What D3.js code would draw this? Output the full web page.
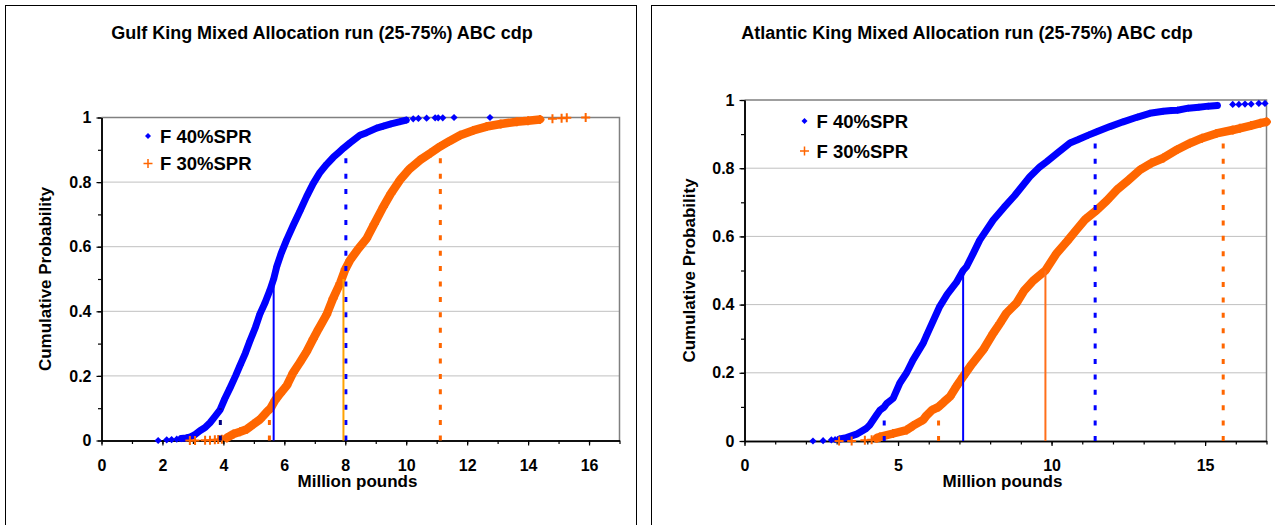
<!DOCTYPE html>
<html><head><meta charset="utf-8">
<script src="https://cdn.jsdelivr.net/npm/d3@7"></script>
<style>
body{margin:0;background:#fff}
svg{display:block}
text{font-family:Arial,"Liberation Sans",sans-serif;font-weight:bold;fill:#000}
</style>
</head><body>
<svg id="c" width="1275" height="525"></svg>
<script>
// ---------------- data ----------------
const seriesNames = ["F 40%SPR", "F 30%SPR"];
const gulfTitle = "Gulf King Mixed Allocation run (25-75%) ABC cdp";
const atlTitle = "Atlantic King Mixed Allocation run (25-75%) ABC cdp";
const xAxisTitle = "Million pounds";
const yAxisTitle = "Cumulative Probability";

const gulfXTicks = [0, 2, 4, 6, 8, 10, 12, 14, 16];
const atlXTicks = [0, 5, 10, 15];
const xMinorTicks = [0,1,2,3,4,5,6,7,8,9,10,11,12,13,14,15,16,17];
const yTicks = [0, 0.2, 0.4, 0.6, 0.8, 1];
const yTickLabels = ["0", "0.2", "0.4", "0.6", "0.8", "1"];
const yMinorTicks = [0,0.1,0.2,0.3,0.4,0.5,0.6,0.7,0.8,0.9,1];
const yGrid = [0.2, 0.4, 0.6, 0.8];

// Gulf, F 40%SPR
const gulfF40X = [1.86,2.14,2.30,2.47,2.62,2.78,2.92,3.05,3.23,3.40,3.56,3.72,3.89,4.05,4.22,4.40,4.55,4.72,4.87,5.05,5.20,5.36,5.53,5.65,5.75,5.90,6.08,6.30,6.51,6.73,6.95,7.17,7.39,7.61,7.80,7.94,8.16,8.48,8.70,9.03,9.25,9.50,9.80,10.00,10.23,10.40,10.67,10.95,11.05,11.20,11.57,12.75];
const gulfF40P = [0,0.002,0.003,0.004,0.006,0.008,0.011,0.017,0.030,0.040,0.055,0.074,0.095,0.130,0.163,0.200,0.233,0.270,0.308,0.350,0.392,0.425,0.466,0.500,0.538,0.580,0.622,0.668,0.710,0.755,0.796,0.830,0.855,0.877,0.893,0.905,0.922,0.945,0.953,0.967,0.973,0.980,0.987,0.992,0.996,0.997,0.998,0.999,0.999,0.999,1.0,1.0];
// Gulf, F 30%SPR
const gulfF30X = [2.90,3.07,3.40,3.56,3.72,3.83,3.95,4.11,4.33,4.55,4.77,4.98,5.20,5.42,5.55,5.70,5.86,6.08,6.29,6.50,6.73,6.95,7.12,7.39,7.60,7.83,8.00,8.16,8.40,8.70,8.95,9.25,9.50,9.80,10.10,10.45,10.80,11.11,11.40,11.77,12.20,12.64,13.10,13.63,14.00,14.39,14.80,15.10,15.27,15.89];
const gulfF30P = [0,0,0.001,0.001,0.002,0.003,0.004,0.008,0.020,0.027,0.035,0.050,0.065,0.088,0.100,0.125,0.145,0.170,0.210,0.240,0.275,0.315,0.345,0.390,0.440,0.487,0.530,0.559,0.590,0.625,0.670,0.724,0.765,0.807,0.840,0.868,0.890,0.910,0.926,0.945,0.960,0.972,0.980,0.987,0.990,0.994,0.996,0.998,0.999,1.0];
// Atlantic, F 40%SPR
const atlF40X = [2.23,2.56,2.83,2.95,3.10,3.32,3.65,3.97,4.08,4.30,4.41,4.55,4.63,4.84,5.06,5.28,5.49,5.82,5.93,6.36,6.60,6.90,7.12,7.23,7.45,7.66,8.10,8.45,8.80,9.29,9.62,9.84,10.20,10.60,10.87,11.20,11.47,11.90,12.33,12.80,13.20,13.64,13.90,14.10,14.45,14.80,15.10,15.40,15.90,16.10,16.30,16.50,16.75,16.95];
const atlF40P = [0,0.001,0.003,0.004,0.006,0.010,0.020,0.037,0.047,0.076,0.090,0.100,0.110,0.125,0.170,0.200,0.238,0.287,0.310,0.395,0.430,0.465,0.500,0.511,0.550,0.589,0.648,0.685,0.720,0.775,0.804,0.819,0.845,0.874,0.884,0.897,0.907,0.922,0.936,0.950,0.961,0.967,0.969,0.970,0.976,0.979,0.982,0.984,0.987,0.987,0.988,0.988,0.990,0.990];
// Atlantic, F 30%SPR
const atlF30X = [3.08,3.49,3.92,4.14,4.30,4.41,4.84,5.28,5.49,5.82,5.93,6.10,6.32,6.50,6.69,6.90,7.12,7.40,7.77,8.10,8.32,8.53,8.86,9.10,9.40,9.80,10.16,10.50,10.81,11.10,11.47,11.80,12.12,12.50,12.88,13.25,13.64,14.10,14.50,14.90,15.37,15.90,16.13,16.50,16.80,17.00];
const atlF30P = [0,0,0.002,0.004,0.008,0.012,0.022,0.032,0.045,0.062,0.075,0.090,0.100,0.115,0.130,0.160,0.189,0.225,0.267,0.316,0.345,0.375,0.405,0.440,0.470,0.500,0.550,0.585,0.619,0.650,0.677,0.705,0.736,0.765,0.795,0.815,0.830,0.855,0.873,0.888,0.902,0.912,0.917,0.925,0.932,0.936];

// percentile reference lines (10%, 50%, 90%)
const pctLevels = [0.1, 0.5, 0.9];
const gulfF40Pct = [3.90, 5.65, 8.02];
const gulfF30Pct = [5.51, 7.94, 11.12];
const atlF40Pct = [4.55, 7.12, 11.42];
const atlF30Pct = [6.32, 9.80, 15.59];

// ---------------- drawing ----------------
const BLUE = "#0000FF", ORANGE = "#FF6600";
const svg = d3.select("#c");

function zip(xs, ps){ return xs.map((v,i)=>[v, ps[i]]); }

function drawChart(cfg){
  const x = d3.scaleLinear().domain([0,17]).range([cfg.left, cfg.right]);
  const y = d3.scaleLinear().domain([0,1]).range([cfg.bottom, cfg.top]);
  const g = svg.append("g");

  // outer frame
  g.append("rect").attr("x", cfg.frame[0]).attr("y", cfg.frame[1])
    .attr("width", cfg.frame[2]).attr("height", cfg.frame[3])
    .attr("fill", "none").attr("stroke", "#000").attr("stroke-width", 1);

  // title
  g.append("text").attr("x", cfg.titleX).attr("y", 39).attr("text-anchor", "middle")
    .style("font-size", "18px").text(cfg.title);

  // gridlines
  g.selectAll("line.grid").data(yGrid).join("line").attr("class","grid")
    .attr("x1", x(0)).attr("x2", x(17)).attr("y1", d=>y(d)).attr("y2", d=>y(d))
    .attr("stroke", "#C0C0C0").attr("stroke-width", 1);
  // plot border top & right
  g.append("path").attr("d", `M${x(0)},${y(1)}H${x(17)}V${y(0)}`)
    .attr("fill","none").attr("stroke","#808080").attr("stroke-width",1.5);

  // axes
  const xMin = g.append("g").attr("transform", `translate(0,${y(0)})`)
    .call(d3.axisBottom(x).tickValues(xMinorTicks).tickSize(3.5).tickFormat("").tickSizeOuter(0));
  const xMaj = g.append("g").attr("transform", `translate(0,${y(0)})`)
    .call(d3.axisBottom(x).tickValues(cfg.xTicks).tickSize(5).tickPadding(14).tickSizeOuter(0).tickFormat(d3.format("d")));
  const yMin = g.append("g").attr("transform", `translate(${x(0)},0)`)
    .call(d3.axisLeft(y).tickValues(yMinorTicks).tickSize(3.5).tickFormat("").tickSizeOuter(0));
  const yMaj = g.append("g").attr("transform", `translate(${x(0)},0)`)
    .call(d3.axisLeft(y).tickValues(yTicks).tickSize(5).tickPadding(5).tickSizeOuter(0)
      .tickFormat((d,i)=>yTickLabels[i]));
  [xMin, xMaj, yMin, yMaj].forEach(a=>{
    a.attr("font-family", null).attr("font-size", null);
    a.selectAll("path.domain").attr("stroke", "#000").attr("stroke-width", 1.5);
    a.selectAll(".tick line").attr("stroke", "#000").attr("stroke-width", 1.2);
    a.selectAll("text").style("font-size", "16px").attr("fill", "#000");
  });

  // axis titles
  g.append("text").attr("transform", `translate(${cfg.yTitleX},${(y(0)+y(1))/2}) rotate(-90)`)
    .attr("text-anchor", "middle").style("font-size", "17px").text(yAxisTitle);
  g.append("text").attr("x", (x(0)+x(17))/2 - 3).attr("y", 487).attr("text-anchor", "middle")
    .style("font-size", "17px").text(xAxisTitle);

  // series curves
  const line = d3.line().x(d=>x(d[0])).y(d=>y(d[1]))
    .defined(d=> d[1] > 0.005 && d[1] < cfg.bandMax);
  cfg.series.forEach(s=>{
    const pts = zip(s.x, s.p);
    g.append("path").datum(pts).attr("d", line).attr("fill","none")
      .attr("stroke", s.color).attr("stroke-width", s.band)
      .attr("stroke-linejoin","round").attr("stroke-linecap","round");
    if (s.marker === "diamond") {
      g.selectAll(null).data(pts).join("path")
        .attr("transform", d=>`translate(${x(d[0])},${y(d[1])}) rotate(45)`)
        .attr("d", d3.symbol(d3.symbolSquare, 26)()).attr("fill", s.color);
    } else {
      g.selectAll(null).data(pts).join("path")
        .attr("transform", d=>`translate(${x(d[0])},${y(d[1])})`)
        .attr("d", "M-4.5,0H4.5M0,-4.5V4.5").attr("fill","none")
        .attr("stroke", s.color).attr("stroke-width", 2);
    }
  });

  // percentile lines
  cfg.series.forEach(s=>{
    s.pct.forEach((v,i)=>{
      const lvl = pctLevels[i];
      const solid = lvl === 0.5;
      g.append("line").attr("x1", x(v)).attr("x2", x(v)).attr("y1", y(0)).attr("y2", y(lvl))
        .attr("stroke", s.lineColors[i]).attr("stroke-width", solid ? 2 : 3)
        .attr("stroke-dasharray", solid ? null : "5,10.4");
    });
  });

  // legend
  const lg = g.append("g");
  cfg.series.forEach((s,i)=>{
    const ly = cfg.legendY[i];
    if (s.marker === "diamond") {
      lg.append("path").attr("transform", `translate(${cfg.legendX},${ly}) rotate(45)`)
        .attr("d", d3.symbol(d3.symbolSquare, 18)()).attr("fill", s.color);
    } else {
      lg.append("path").attr("transform", `translate(${cfg.legendX},${ly})`)
        .attr("d", "M-4.5,0H4.5M0,-4.5V4.5").attr("fill","none")
        .attr("stroke", s.color).attr("stroke-width", 1.5);
    }
    lg.append("text").attr("x", cfg.legendX + 12).attr("y", ly + 6.5)
      .style("font-size", "18.5px").text(seriesNames[i]);
  });
}

drawChart({
  title: gulfTitle, titleX: 322, frame: [5.5, 5.5, 631, 560],
  left: 101.5, right: 619.5, bottom: 440.5, top: 117.5,
  xTicks: gulfXTicks, yTitleX: 51, bandMax: 0.995,
  legendX: 148, legendY: [136, 163.5],
  series: [
    {x: gulfF40X, p: gulfF40P, color: BLUE, marker: "diamond", band: 7,
     pct: gulfF40Pct, lineColors: ["#000080", BLUE, BLUE]},
    {x: gulfF30X, p: gulfF30P, color: ORANGE, marker: "plus", band: 8.5,
     pct: gulfF30Pct, lineColors: [ORANGE, "#FFA200", ORANGE]}
  ]
});

drawChart({
  title: atlTitle, titleX: 967, frame: [651.5, 5.5, 640, 560],
  left: 744.5, right: 1266.5, bottom: 441, top: 100,
  xTicks: atlXTicks, yTitleX: 695, bandMax: 0.986,
  legendX: 804.5, legendY: [121, 151],
  series: [
    {x: atlF40X, p: atlF40P, color: BLUE, marker: "diamond", band: 7,
     pct: atlF40Pct, lineColors: [BLUE, BLUE, BLUE]},
    {x: atlF30X, p: atlF30P, color: ORANGE, marker: "plus", band: 8.5,
     pct: atlF30Pct, lineColors: [ORANGE, "#FF6F1A", ORANGE]}
  ]
});
</script>
</body></html>
